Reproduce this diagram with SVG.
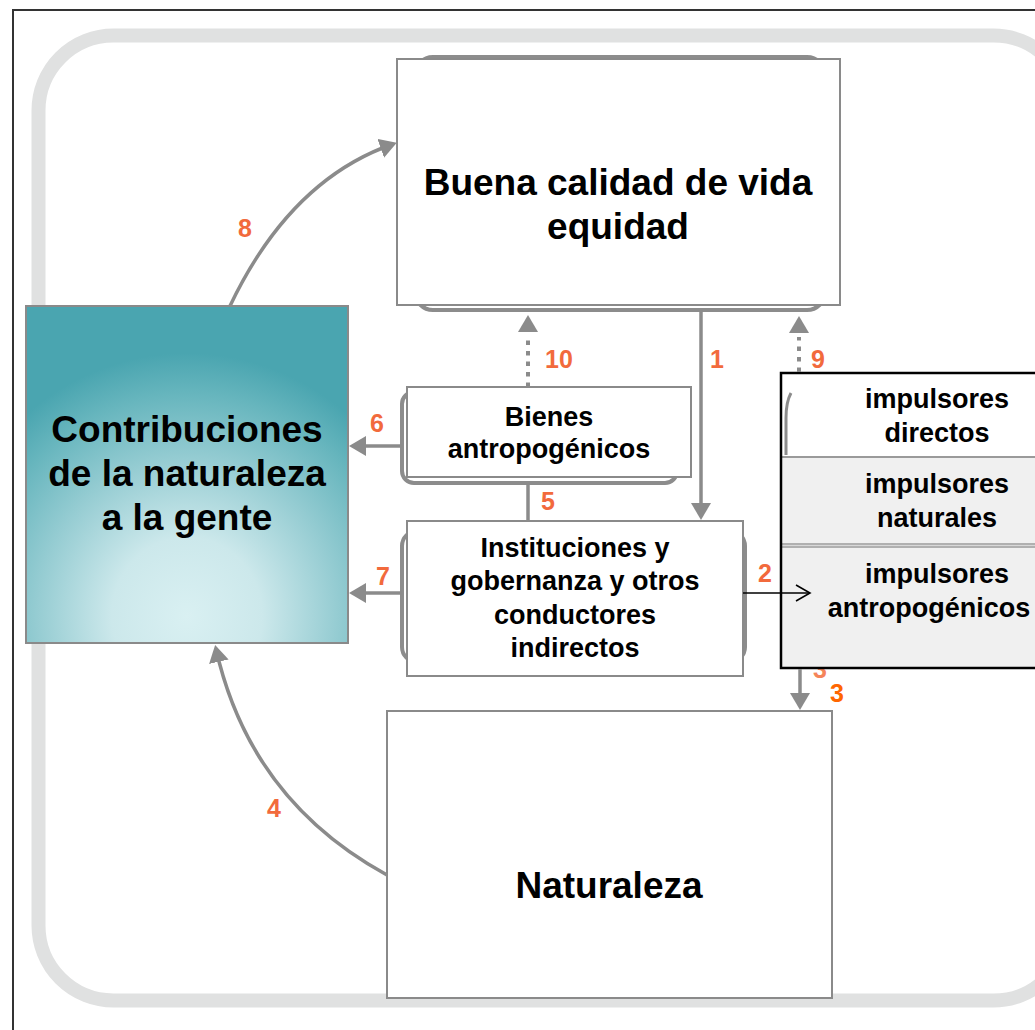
<svg xmlns="http://www.w3.org/2000/svg" width="1035" height="1030" viewBox="0 0 1035 1030">
<defs>
<style>
.box{fill:#fff;stroke:#8a8a8a;stroke-width:2}
.shadow{fill:none;stroke:#8c8c8c;stroke-width:4}
.t{font-family:"Liberation Sans",Arial,sans-serif;font-weight:bold;fill:#000;text-anchor:middle}
.big{font-size:37px}
.mid{font-size:27px}
.num{font-family:"Liberation Sans",Arial,sans-serif;font-weight:bold;font-size:25px;fill:#f26a3c;text-anchor:middle}
.conn{fill:none;stroke:#8b8b8b;stroke-width:3.5}
.dot{fill:none;stroke:#8b8b8b;stroke-width:4;stroke-dasharray:4.5 6}
</style>
<marker id="ah" markerUnits="userSpaceOnUse" markerWidth="18" markerHeight="20" refX="13" refY="10" orient="auto">
<path d="M0,0 L17,10 L0,20 z" fill="#8b8b8b"/>
</marker>
<marker id="open" markerUnits="userSpaceOnUse" markerWidth="18" markerHeight="18" refX="15" refY="9" orient="auto">
<path d="M1,1 L15,9 L1,17" fill="none" stroke="#000" stroke-width="1.6"/>
</marker>
<radialGradient id="teal" cx="0.5" cy="0.92" r="0.78" fx="0.5" fy="0.92">
<stop offset="0" stop-color="#d9f0f2"/>
<stop offset="0.3" stop-color="#cce8eb"/>
<stop offset="0.6" stop-color="#95ccd2"/>
<stop offset="0.85" stop-color="#66b5bd"/>
<stop offset="1" stop-color="#4aa5b0"/>
</radialGradient>
</defs>
<rect x="0" y="0" width="1035" height="1030" fill="#fff"/>
<rect x="13" y="10" width="1040" height="1040" fill="none" stroke="#333" stroke-width="2"/>
<rect x="38.5" y="35.5" width="1030" height="965" rx="75" fill="none" stroke="#e0e1e1" stroke-width="14"/>

<text class="num" x="820" y="678" style="fill:#f5845a">3</text>

<g id="node-buena">
<rect class="shadow" x="415" y="57" width="410" height="253" rx="18"/>
<rect class="box" x="397" y="59" width="443" height="246"/>
<text class="t big" x="618" y="195">Buena calidad de vida</text>
<text class="t big" x="618" y="239">equidad</text>
</g>

<g id="node-contribuciones">
<rect x="26" y="306" width="322" height="337" fill="url(#teal)" stroke="#8a8a8a" stroke-width="2"/>
<text class="t big" x="187" y="442">Contribuciones</text>
<text class="t big" x="187" y="486">de la naturaleza</text>
<text class="t big" x="187" y="530">a la gente</text>
</g>

<g id="node-bienes">
<rect class="shadow" x="402" y="392" width="275" height="91" rx="12"/>
<rect class="box" x="407" y="387" width="284" height="90"/>
<text class="t mid" x="549" y="426">Bienes</text>
<text class="t mid" x="549" y="458">antropogénicos</text>
</g>

<g id="node-instituciones">
<rect class="shadow" x="402" y="531" width="343" height="131" rx="15"/>
<rect class="box" x="407" y="521" width="336" height="155"/>
<text class="t mid" x="575" y="557">Instituciones y</text>
<text class="t mid" x="575" y="590">gobernanza y otros</text>
<text class="t mid" x="575" y="624">conductores</text>
<text class="t mid" x="575" y="657">indirectos</text>
</g>

<g id="node-impulsores">
<rect x="781" y="373" width="312" height="295" fill="#f0f0f0"/>
<rect x="781" y="373" width="312" height="84" fill="#fff"/>
<path d="M791,393 Q786,402 786,418 L786,455" fill="none" stroke="#8c8c8c" stroke-width="3"/>
<line x1="781" y1="457" x2="1093" y2="457" stroke="#9a9a9a" stroke-width="2"/>
<rect x="781" y="543" width="312" height="5" fill="#b0b0b0"/>
<line x1="781" y1="545.5" x2="1093" y2="545.5" stroke="#d8d8d8" stroke-width="1"/>
<rect x="781" y="373" width="312" height="295" fill="none" stroke="#000" stroke-width="2.5"/>
<text class="t mid" x="937" y="408">impulsores</text>
<text class="t mid" x="937" y="442">directos</text>
<text class="t mid" x="937" y="493">impulsores</text>
<text class="t mid" x="937" y="527">naturales</text>
<text class="t mid" x="937" y="583">impulsores</text>
<text class="t mid" x="929" y="617">antropogénicos</text>
</g>

<g id="node-naturaleza">
<rect class="box" x="387" y="711" width="445" height="287"/>
<text class="t big" x="609" y="898">Naturaleza</text>
</g>

<g id="connectors">
<path class="conn" d="M230,306 Q290,180 393,144" marker-end="url(#ah)"/>
<path class="conn" d="M387,875 Q250,800 216,649" marker-end="url(#ah)"/>
<path class="conn" d="M701,310 L701,516" marker-end="url(#ah)"/>
<path class="dot" d="M528,387 L528,337"/>
<path d="M528,330 L528,319" fill="none" stroke="none" marker-end="url(#ah)"/>
<path class="dot" d="M799,372 L799,337"/>
<path d="M799,330 L799,320" fill="none" stroke="none" marker-end="url(#ah)"/>
<path class="conn" d="M402,446 L353,446" marker-end="url(#ah)"/>
<path class="conn" d="M402,593 L353,593" marker-end="url(#ah)"/>
<path class="conn" d="M528,483 L528,521"/>
<path class="conn" d="M800,669 L800,706" marker-end="url(#ah)"/>
<path d="M743,593 L810,593" fill="none" stroke="#000" stroke-width="1.6" marker-end="url(#open)"/>
</g>

<g id="labels">
<text class="num" x="245" y="237">8</text>
<text class="num" x="274" y="817">4</text>
<text class="num" x="717" y="368">1</text>
<text class="num" x="559" y="368">10</text>
<text class="num" x="818" y="368">9</text>
<text class="num" x="377" y="432">6</text>
<text class="num" x="383" y="585">7</text>
<text class="num" x="548" y="510">5</text>
<text class="num" x="765" y="582">2</text>
<text class="num" x="837" y="702" style="fill:#ff6600">3</text>
</g>
</svg>
